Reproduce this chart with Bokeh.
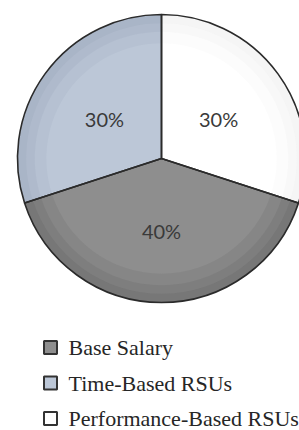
import math
from bokeh.plotting import figure
from bokeh.models import Range1d, ColumnDataSource
from bokeh.core.properties import value
from bokeh.embed import file_html
from bokeh.resources import INLINE

categories = ["Base Salary", "Time-Based RSUs", "Performance-Based RSUs"]
shares = [40, 30, 30]
colors = ["#8e8e8e", "#bcc7d7", "#ffffff"]
edge_colors = ["#6f6f6f", "#a3afc2", "#f2f2f2"]
first_slice_deg = 108  # angle of first slice, measured clockwise from 12 o'clock

W, H = 299, 430
p = figure(width=W, height=H, output_backend="svg", toolbar_location=None,
           x_range=Range1d(0, W), y_range=Range1d(0, H), min_border=0)
p.axis.visible = False
p.grid.visible = False
p.outline_line_color = None
p.background_fill_color = "white"

cx, cy, R = 161, H - 158, 144
total = sum(shares)
starts, ends, lx, ly, labels = [], [], [], [], []
a = math.radians(90 - first_slice_deg)
for s in shares:
    sweep = 2 * math.pi * s / total
    starts.append(a)
    ends.append(a - sweep)
    mid = a - sweep / 2
    lx.append(cx + 0.49 * R * math.cos(mid))
    ly.append(cy + 0.49 * R * math.sin(mid) - 2)
    labels.append(f"{s}%")
    a -= sweep

src = ColumnDataSource(dict(start=starts, end=ends, color=colors, edge=edge_colors))
p.wedge(x=cx, y=cy, radius=R, start_angle="start", end_angle="end", direction="clock",
        fill_color="color", line_color=None, source=src)
# soft bevel shading toward the rim
for k, (r0, alpha) in enumerate([(0.80, 0.25), (0.88, 0.35), (0.94, 0.5)]):
    p.annular_wedge(x=cx, y=cy, inner_radius=r0 * R, outer_radius=R,
                    start_angle="start", end_angle="end", direction="clock",
                    fill_color="edge", fill_alpha=alpha, line_color=None, source=src)
p.wedge(x=cx, y=cy, radius=R, start_angle="start", end_angle="end", direction="clock",
        fill_color=None, line_color="#2b2b2b", line_width=1.6, source=src)

p.text(x=lx, y=ly, text=labels, text_align="center", text_baseline="middle",
       text_font=value("Lato"), text_font_size="20px", text_color="#3a3a3a")

# legend
ley = [H - 347, H - 382.5, H - 418]
p.scatter(x=[50] * 3, y=ley, marker="square", size=13, fill_color=colors,
          line_color="#333333", line_width=2)
p.text(x=[68] * 3, y=ley, text=categories, text_align="left", text_baseline="middle",
       text_font=value("Liberation Serif"), text_font_size="22px", text_color="#262626")

open("out.html", "w").write(file_html(p, INLINE))
